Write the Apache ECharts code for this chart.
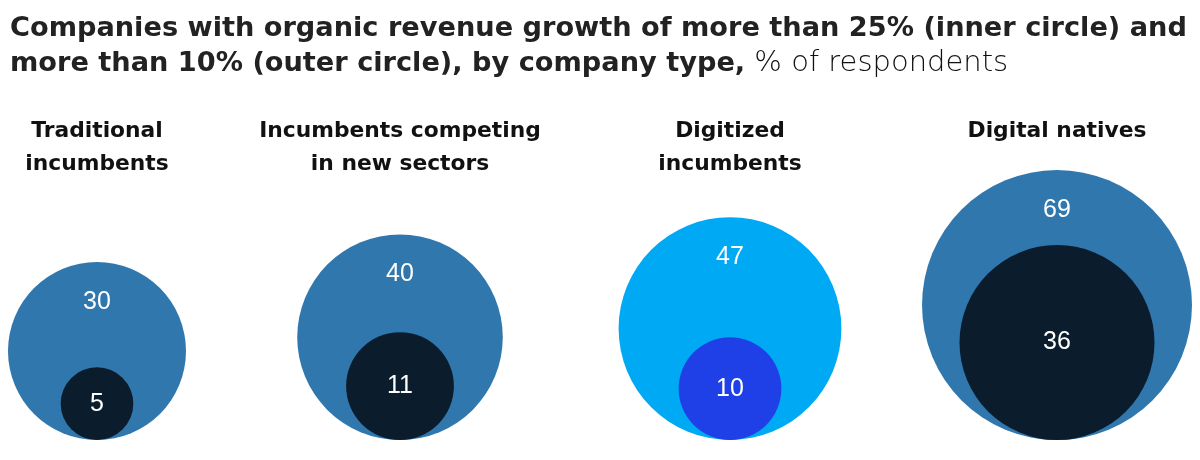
<!DOCTYPE html>
<html>
<head>
<meta charset="utf-8">
<script src="https://cdn.jsdelivr.net/npm/echarts@6/dist/echarts.min.js"></script>
<style>
  html, body { margin: 0; padding: 0; background: #fff; }
  #chart { width: 1200px; height: 460px; }
</style>
</head>
<body>
<div id="chart"></div>
<script>
// ---- data ----
var categories = ['Traditional\nincumbents', 'Incumbents competing\nin new sectors', 'Digitized\nincumbents', 'Digital natives'];
var outerValues = [30, 40, 47, 69];   // more than 10% growth (outer circle)
var innerValues = [5, 11, 10, 36];    // more than 25% growth (inner circle)

// ---- layout / style ----
var centersX = [97, 400, 730, 1057];
var outerColors = ['#3077AE', '#3077AE', '#00A9F4', '#3077AE'];
var innerColors = ['#0B1D2D', '#0B1D2D', '#1F40E6', '#0B1D2D'];
var TITLE_FONT = '"DejaVu Sans", sans-serif';
var CAT_FONT = '"DejaVu Sans", sans-serif';
var NUM_FONT = '"Liberation Sans", Arial, sans-serif';
var K = 32.5; // diameter per sqrt(value) (area-proportional circles)
function diameter(v) { return K * Math.sqrt(v); }

var chart = echarts.init(document.getElementById('chart'), null, { renderer: 'canvas' });

var grids = [], xAxes = [], yAxes = [], series = [];
var titles = [{
  left: 10, top: 11, padding: 0,
  text: '{b|Companies with organic revenue growth of more than 25% (inner circle) and}\n{b|more than 10% (outer circle), by company type,}{n| % of respondents}',
  textStyle: {
    rich: {
      b: { fontFamily: TITLE_FONT, fontSize: 27.2, fontWeight: 'bold', color: '#222', lineHeight: 35 },
      n: { fontFamily: TITLE_FONT, fontSize: 29, fontWeight: 300, color: '#111', lineHeight: 35 }
    }
  }
}];

categories.forEach(function (cat, i) {
  grids.push({ left: centersX[i] - 80, width: 160, top: 100, bottom: 20 });
  xAxes.push({ type: 'category', gridIndex: i, data: [cat], show: false, boundaryGap: true });
  yAxes.push({ type: 'value', gridIndex: i, min: 0, max: 1, show: false });
  titles.push({
    text: cat, padding: 0,
    left: centersX[i], top: 115, textAlign: 'center',
    textStyle: { fontFamily: CAT_FONT, fontSize: 21.8, fontWeight: 'bold', color: '#111', lineHeight: 33, align: 'center' }
  });
  series.push({
    type: 'scatter', xAxisIndex: i, yAxisIndex: i,
    data: [[cat, 0, outerValues[i]]],
    symbol: 'circle',
    symbolSize: function (val) { return diameter(val[2]); },
    symbolOffset: [0, '-50%'],
    itemStyle: { color: outerColors[i], opacity: 1 },
    label: {
      show: true, position: ['50%', 40], align: 'center', verticalAlign: 'middle',
      formatter: function (p) { return p.value[2]; },
      color: '#fff', fontSize: 25, fontFamily: NUM_FONT
    },
    emphasis: { disabled: true },
    silent: true, z: 2
  });
  series.push({
    type: 'scatter', xAxisIndex: i, yAxisIndex: i,
    data: [[cat, 0, innerValues[i]]],
    symbol: 'circle',
    symbolSize: function (val) { return diameter(val[2]); },
    symbolOffset: [0, '-50%'],
    itemStyle: { color: innerColors[i], opacity: 1 },
    label: {
      show: true, position: 'inside',
      formatter: function (p) { return p.value[2]; },
      color: '#fff', fontSize: 25, fontFamily: NUM_FONT
    },
    emphasis: { disabled: true },
    silent: true, z: 3
  });
});

chart.setOption({
  animation: false,
  backgroundColor: '#fff',
  title: titles,
  grid: grids,
  xAxis: xAxes,
  yAxis: yAxes,
  series: series
});
</script>
</body>
</html>
